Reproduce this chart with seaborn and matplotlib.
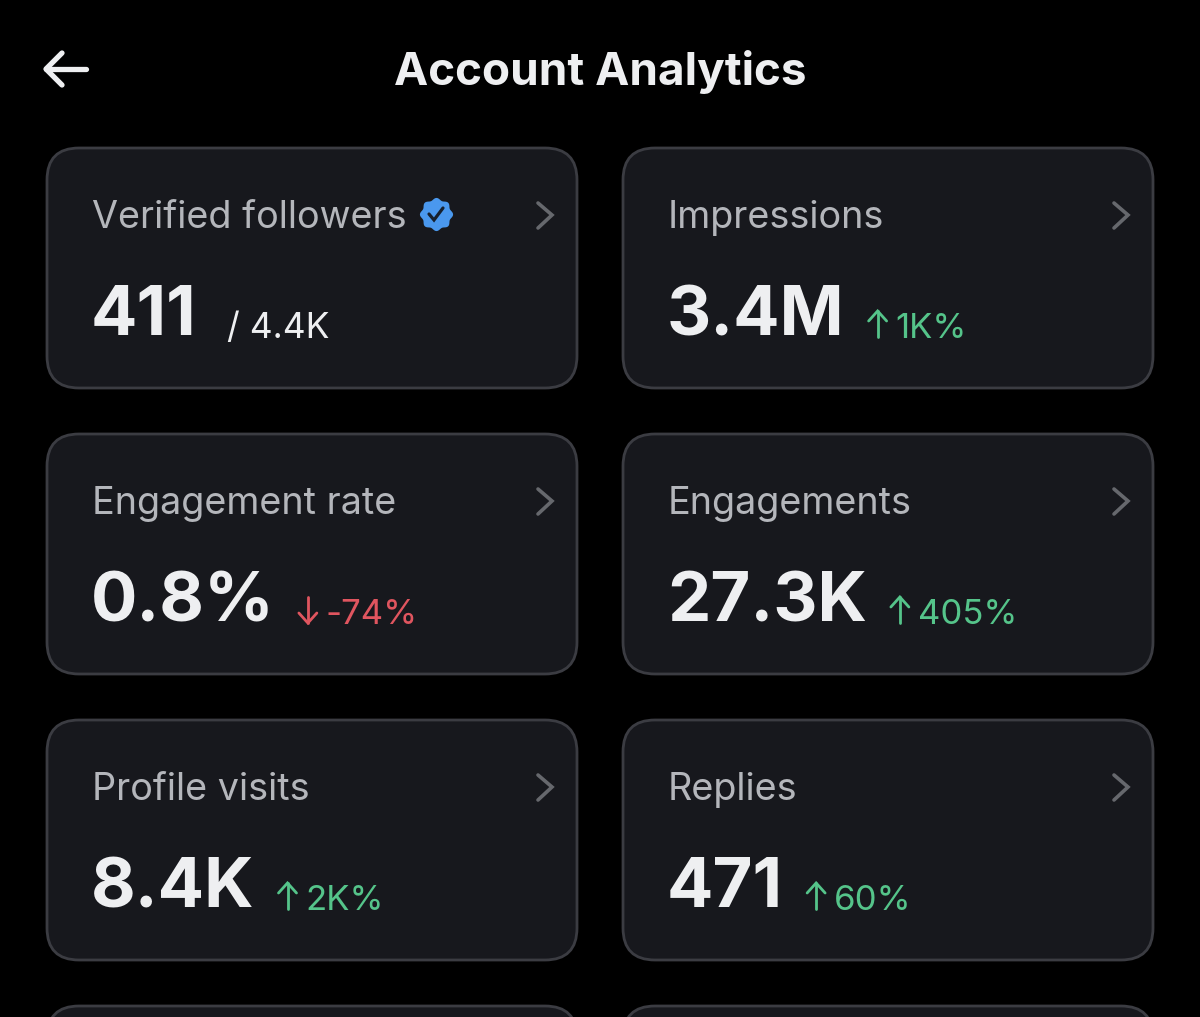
import numpy as np
import seaborn as sns
import matplotlib.pyplot as plt
from matplotlib.patches import FancyBboxPatch
from matplotlib.path import Path

# Card contents, row by row, left to right
labels = ["Verified followers", "Impressions", "Engagement rate", "Engagements", "Profile visits", "Replies"]
values = ["411", "3.4M", "0.8%", "27.3K", "8.4K", "471"]
changes = ["/ 4.4K", "1K%", "-74%", "405%", "2K%", "60%"]
directions = ["none", "up", "down", "up", "up", "up"]

title = "Account Analytics"

BG = "#000000"
CARD = "#17181d"
EDGE = "#3b3c42"
LABEL = "#b4b6bb"
WHITE = "#eeeff1"
GREEN = "#55c48a"
RED = "#e0555f"
CHEVRON = "#66686d"
BLUE = "#4a98ee"

sns.set_theme(style="dark", rc={"figure.facecolor": BG, "axes.facecolor": BG})
plt.rcParams["font.family"] = ["Inter", "DejaVu Sans"]

fig = plt.figure(figsize=(12, 10.17), dpi=100)
ax = fig.add_axes([0, 0, 1, 1])
ax.set_xlim(0, 1200)
ax.set_ylim(1017, 0)
ax.axis("off")

CARD_W = 530
CARD_H = 240
RAD = 32
col_x = [47, 623]
row_y = [148, 434, 720, 1006]


def card(x, y):
    ax.add_patch(FancyBboxPatch((x + RAD, y + RAD), CARD_W - 2 * RAD, CARD_H - 2 * RAD,
                                boxstyle=f"round,pad={RAD},rounding_size={RAD}",
                                fc=CARD, ec=EDGE, lw=2, zorder=1))


def arrow(x, y, color, up=True):
    # y is the vertical middle of the arrow
    s = -1 if up else 1
    ax.plot([x, x], [y - 13, y + 13], color=color, lw=2, solid_capstyle="round", zorder=3)
    ax.plot([x - 9, x, x + 9], [y + s * 3, y + s * 13, y + s * 3], color=color, lw=2,
            solid_capstyle="round", solid_joinstyle="miter", zorder=3)


ax.text(600, 85, title, color=WHITE, fontsize=33, fontweight="bold", ha="center", va="baseline")

# back arrow
ax.plot([46, 86], [69, 69], color=WHITE, lw=3.8, solid_capstyle="round")
ax.plot([62, 46, 62], [53, 69, 85], color=WHITE, lw=3.8, solid_capstyle="round", solid_joinstyle="round")

for x in col_x:
    for y in row_y:
        card(x, y)

renderer = fig.canvas.get_renderer()
for i, (lab, val, chg, d) in enumerate(zip(labels, values, changes, directions)):
    x = col_x[i % 2]
    y = row_y[i // 2]
    ax.text(x + 45, y + 80, lab, color=LABEL, fontsize=27.2, va="baseline", ha="left")
    v = ax.text(x + 44, y + 187, val, color=WHITE, fontsize=49.5, fontweight="bold", va="baseline", ha="left")
    end = ax.transData.inverted().transform(v.get_window_extent(renderer))[1][0]
    if d == "none":
        ax.text(end + 30, y + 190, chg, color=WHITE, fontsize=25.5, va="baseline", ha="left")
    else:
        col = GREEN if d == "up" else RED
        arrow(end + 33, y + 176, col, up=d == "up")
        ax.text(end + 51, y + 190, chg, color=col, fontsize=25, va="baseline", ha="left")
    # chevron
    cx = x + 491
    ax.plot([cx, cx + 14, cx], [y + 55, y + 67, y + 80], color=CHEVRON, lw=2.6,
            solid_capstyle="round", solid_joinstyle="miter", zorder=3)

# verified badge on the first card
theta = np.linspace(0, 2 * np.pi, 193)
r = 1 + 0.07 * np.cos(8 * theta)
badge = Path(np.column_stack([r * np.cos(theta), r * np.sin(theta)]), closed=True)
ax.scatter([436], [214], marker=badge, s=570, color=BLUE, linewidths=0, zorder=3)
ax.plot([429, 434, 443], [214, 220, 208], color="#16202e", lw=2.3, solid_joinstyle="miter", zorder=4)

fig.savefig("out.png", dpi=100, facecolor=BG)
